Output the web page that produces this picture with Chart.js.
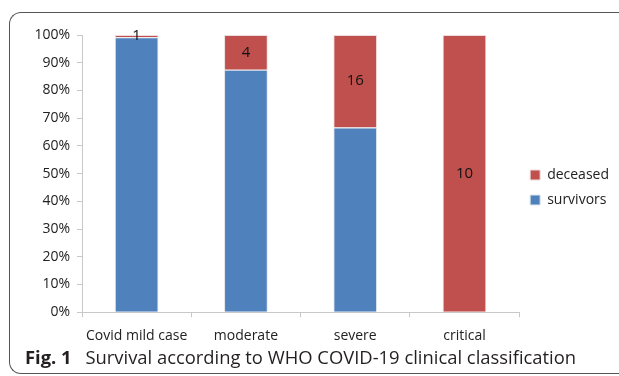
<!DOCTYPE html>
<html>
<head>
<meta charset="utf-8">
<script src="https://cdn.jsdelivr.net/npm/chart.js@4.4.1/dist/chart.umd.min.js"></script>
<style>
  html, body { margin: 0; padding: 0; background: #fff; }
  #wrap { position: relative; width: 619px; height: 376px; overflow: hidden; }
  #frame {
    position: absolute; left: 9px; top: 12px; width: 640px; height: 360px;
    border: 1.5px solid #555; border-right: none; border-radius: 12px 0 0 12px;
  }
  #chart1 { position: absolute; left: 0; top: 0; }
  #caption {
    position: absolute; left: 25px; top: 344px; white-space: nowrap;
    font-family: "Open Sans", sans-serif; font-size: 18.4px; color: #231f20;
  }
  #caption b { margin-right: 9px; }
</style>
</head>
<body>
<div id="wrap">
  <div id="frame"></div>
  <canvas id="chart1" width="619" height="376"></canvas>
  <div id="caption"><b>Fig. 1</b> Survival according to WHO COVID-19 clinical classification</div>
</div>
<script>
/*
    The data.
    Counts per WHO class; bars are drawn as share of each class (100% stacked).
*/
const categories = ['Covid mild case', 'moderate', 'severe', 'critical'];
const survivors = [120, 28, 32, 0];
const deceased = [1, 4, 16, 10];
const yTicks = [0, 10, 20, 30, 40, 50, 60, 70, 80, 90, 100];

const totals = categories.map((c, i) => survivors[i] + deceased[i]);
const survivorsPct = survivors.map((v, i) => v / totals[i] * 100);
const deceasedPct = deceased.map((v, i) => v / totals[i] * 100);

const fontFamily = '"Open Sans", sans-serif';

// draws the deceased counts in the middle of the red segments
const countLabels = {
    id: 'countLabels',
    afterLayout(chart) {
        // legend sits a bit above the middle in the original
        chart.legend.top -= 7;
        chart.legend.bottom -= 7;
    },
    afterDatasetsDraw(chart) {
        const ctx = chart.ctx;
        const meta = chart.getDatasetMeta(1);
        ctx.save();
        ctx.font = '15px ' + fontFamily;
        ctx.fillStyle = '#111';
        ctx.textAlign = 'center';
        ctx.textBaseline = 'middle';
        meta.data.forEach((bar, i) => {
            ctx.fillText(String(deceased[i]), bar.x, (bar.y + bar.base) / 2);
        });
        ctx.restore();
    }
};

const context = document.getElementById('chart1').getContext('2d');

const setup = {
    labels: categories,
    datasets: [{
        label: 'survivors',
        data: survivorsPct,
        backgroundColor: '#4f81bd',
        borderColor: '#dfe4ea',
        borderWidth: 1,
        barPercentage: 0.4,
        categoryPercentage: 1
    }, {
        label: 'deceased',
        data: deceasedPct,
        backgroundColor: '#c0504d',
        borderColor: '#eedcdc',
        borderWidth: 1,
        barPercentage: 0.4,
        categoryPercentage: 1
    }]
};

const config = {
    type: 'bar',
    data: setup,
    options: {
        responsive: false,
        animation: false,
        layout: { padding: { top: 35, bottom: 22, left: 0, right: 0 } },
        plugins: {
            tooltip: { enabled: false },
            legend: {
                position: 'right',
                reverse: true,
                labels: {
                    boxWidth: 10,
                    boxHeight: 10,
                    padding: 11,
                    color: '#222',
                    font: { family: fontFamily, size: 14 }
                }
            }
        },
        scales: {
            x: {
                stacked: true,
                grid: { offset: true, drawOnChartArea: false, color: '#c8c8c8', tickLength: 5 },
                border: { color: '#c8c8c8' },
                ticks: { color: '#222', padding: 10, font: { family: fontFamily, size: 14 } }
            },
            y: {
                stacked: true,
                min: 0,
                max: 100,
                afterFit(scale) { scale.width = 82; },
                afterBuildTicks(scale) { scale.ticks = yTicks.map(v => ({ value: v })); },
                grid: { drawOnChartArea: false, color: '#c8c8c8', tickLength: 5 },
                border: { color: '#c8c8c8' },
                ticks: {
                    color: '#222',
                    padding: 7,
                    font: { family: fontFamily, size: 14 },
                    callback: v => v + '%'
                }
            }
        }
    },
    plugins: [countLabels]
};

const chart1 = new Chart(context, config);
</script>
</body>
</html>
